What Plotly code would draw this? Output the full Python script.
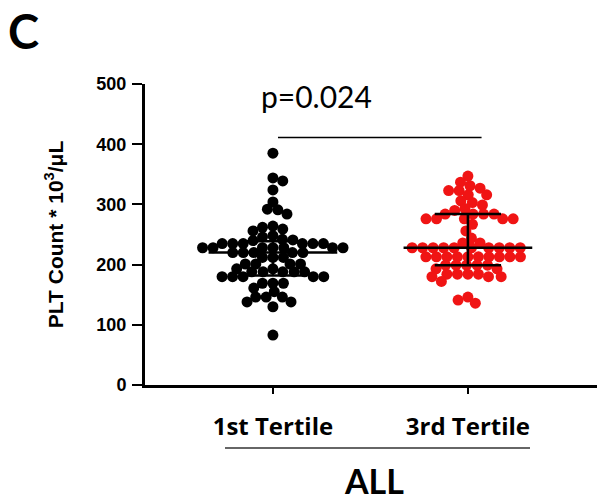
import numpy as np
import plotly.graph_objects as go

# ---------------- data ----------------
categories = ["1st Tertile", "3rd Tertile"]
group_label = "ALL"
p_text = "p=0.024"

tertile1_values = [
    385, 344, 339, 324, 304, 292, 291, 284, 264, 262, 259, 256, 248, 246,
    242, 241, 240,
    235, 235, 235, 235, 235, 235,
    228, 228, 228, 228, 228, 228, 228,
    220, 220, 220, 220, 220,
    212, 212, 212,
    201, 201, 201, 201,
    193, 193,
    188, 188, 188, 188, 188,
    180, 180, 180, 180, 180,
    169, 169, 169,
    161, 155,
    146, 146, 146,
    138, 138,
    130, 83,
]

tertile3_values = [
    347, 337, 331, 327, 323, 323, 316, 316, 306, 303, 299, 293, 290,
    284, 284, 284, 284,
    276, 276, 276, 276, 276,
    267, 256, 244,
    236, 236,
    228, 228, 228, 228, 228, 228, 228, 228, 228, 228,
    213, 213, 213, 213, 213, 213, 213, 213, 213, 213,
    199, 199, 199, 199, 199,
    193, 193,
    184, 184, 184, 184,
    180, 180, 180,
    172, 146, 141, 136,
]

y_ticks = [0, 100, 200, 300, 400, 500]
sig_pair = [0, 1]
sig_level = 411

# ---------------- layout geometry ----------------
W, H = 597, 503
ML, MR, MT, MB = 145, 0, 84, 118
PW, PH = W - ML - MR, H - MT - MB
X_RANGE = [-0.656, 1.662]
Y_RANGE = [0, 500]
px_per_x = PW / (X_RANGE[1] - X_RANGE[0])
px_per_y = PH / (Y_RANGE[1] - Y_RANGE[0])


def px_to_paper(xp, yp):
    return (xp - ML) / PW, (H - MB - yp) / PH


def swarm_offsets(vals, d_px=10.5, dy_px=8.5):
    """Simple beeswarm: place each point nearest the centre without overlap."""
    vals = np.asarray(vals, dtype=float)
    order = np.argsort(-vals, kind="stable")
    placed = []
    out = np.zeros(len(vals))
    for k, i in enumerate(order):
        y = vals[i] * px_per_y
        near = [(xp, yp) for xp, yp in placed if abs(yp - y) < dy_px]
        cands = [0.0]
        for xp, yp in near:
            dx = d_px * np.sqrt(max(0.0, 1 - ((yp - y) / dy_px) ** 2))
            cands += [xp + dx + 1e-6, xp - dx - 1e-6]

        def ok(c):
            return all(((c - xp) / d_px) ** 2 + ((y - yp) / dy_px) ** 2 >= 1 - 1e-6
                       for xp, yp in near)

        valid = [c for c in cands if ok(c)]
        sign = 1 if k % 2 else -1
        best = min(valid, key=lambda c: (round(abs(c), 3), sign * c))
        placed.append((best, y))
        out[i] = best
    return out / px_per_x


fig = go.Figure()

colors = ["#000000", "#f01414"]
groups = [tertile1_values, tertile3_values]

for gi, (vals, col) in enumerate(zip(groups, colors)):
    offs = swarm_offsets(vals)
    fig.add_trace(go.Scatter(
        x=gi + offs, y=vals, mode="markers",
        marker=dict(size=11, color=col, line=dict(width=0)),
        showlegend=False, hoverinfo="y",
    ))
    med = float(np.median(vals))
    q1, q3 = [float(v) for v in np.percentile(vals, [25, 75])]
    lw = 2.5
    fig.add_shape(type="line", x0=gi - 0.33, x1=gi + 0.33, y0=med, y1=med,
                  line=dict(color="black", width=lw))
    for q in (q1, q3):
        fig.add_shape(type="line", x0=gi - 0.17, x1=gi + 0.17, y0=q, y1=q,
                      line=dict(color="black", width=lw))
    fig.add_shape(type="line", x0=gi, x1=gi, y0=q1, y1=q3,
                  line=dict(color="black", width=lw))

# significance bar
fig.add_shape(type="line", x0=sig_pair[0] + 0.026, x1=sig_pair[1] + 0.07,
              y0=sig_level, y1=sig_level, line=dict(color="black", width=1.5))

# group underline beneath tick labels
ux0 = (225 - ML) / px_per_x + X_RANGE[0]
ux1 = (530 - ML) / px_per_x + X_RANGE[0]
_, uy = px_to_paper(0, 448)
fig.add_shape(type="line", xref="x", yref="paper", x0=ux0, x1=ux1, y0=uy, y1=uy,
              line=dict(color="#333333", width=1.5))


def text_at(text, xp, yp, family, size, weight="normal", xanchor="center", yanchor="middle"):
    x, y = px_to_paper(xp, yp)
    return dict(text=text, x=x, y=y, xref="paper", yref="paper", showarrow=False,
                xanchor=xanchor, yanchor=yanchor,
                font=dict(family=family, size=size, color="black", weight=weight))


ann = [
    text_at(p_text, 316, 96, "Lato", 30),
    text_at(group_label, 374, 480, "Lato", 34, "bold"),
    text_at("C", 23, 31, "Lato", 47, "bold"),
    text_at(group_label, 407, 5, "Lato", 34, "bold", yanchor="bottom"),
]

fig.update_layout(
    width=W, height=H,
    margin=dict(l=ML, r=MR, t=MT, b=MB, autoexpand=False),
    paper_bgcolor="white", plot_bgcolor="white",
    annotations=ann,
    xaxis=dict(
        range=X_RANGE, tickvals=[0, 1], ticktext=categories,
        showline=True, linewidth=3, linecolor="black",
        ticks="outside", ticklen=6, tickwidth=2, tickcolor="black",
        tickfont=dict(family="Open Sans", size=24, color="black", weight="bold"),
        ticklabelstandoff=12,
        showgrid=False, zeroline=False,
    ),
    yaxis=dict(
        range=Y_RANGE, tickvals=y_ticks,
        showline=True, linewidth=3, linecolor="black",
        ticks="outside", ticklen=10, tickwidth=2, tickcolor="black",
        tickfont=dict(family="Liberation Sans", size=18, color="black", weight="bold"),
        ticklabelstandoff=2,
        title=dict(text="PLT Count * 10<sup>3</sup>/μL",
                   font=dict(family="Liberation Sans", size=21, color="black", weight="bold"),
                   standoff=28),
        showgrid=False, zeroline=False,
    ),
)

fig.write_html("out.html", config={"displayModeBar": False},
               post_script="document.body.style.margin='0';")
